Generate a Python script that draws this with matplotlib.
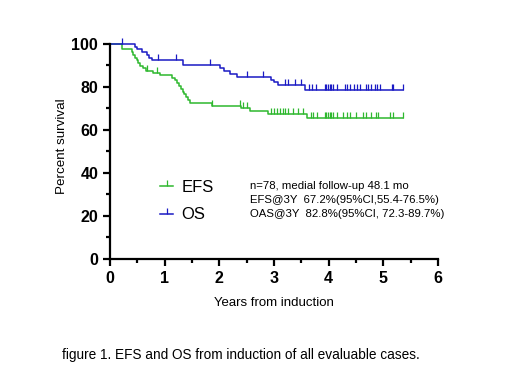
import numpy as np
import matplotlib
matplotlib.use('Agg')
import matplotlib.pyplot as plt
from matplotlib.lines import Line2D

plt.rcParams['font.family'] = ['Liberation Sans', 'DejaVu Sans']

# Kaplan-Meier steps (years, percent)
efs_t = [0, 0.22, 0.40, 0.43, 0.46, 0.49, 0.52, 0.55, 0.60, 0.66, 0.79, 0.91, 1.13,
         1.19, 1.23, 1.27, 1.30, 1.33, 1.36, 1.39, 1.42, 1.46, 1.86, 2.39, 2.56, 2.89, 3.60, 5.36]
efs_s = [100, 97.4, 96.2, 94.9, 93.6, 92.3, 91.0, 89.7, 88.5, 87.2, 86.5, 85.5, 84.3,
         83.0, 81.7, 80.4, 79.1, 77.8, 76.5, 75.2, 73.9, 72.6, 71.3, 70.0, 68.8, 67.3, 65.5, 65.5]
efs_cens = [0.67, 0.86, 1.86, 2.38, 2.44, 2.50, 2.94, 3.00, 3.06, 3.11, 3.16, 3.20, 3.26,
            3.35, 3.44, 3.53, 3.67, 3.72, 3.78, 3.93, 3.96, 3.99, 4.02, 4.05, 4.08, 4.16,
            4.27, 4.33, 4.39, 4.50, 4.63, 4.69, 4.78, 4.87, 4.90, 5.12, 5.18, 5.36]

os_t = [0, 0.46, 0.50, 0.58, 0.67, 0.72, 0.76, 1.34, 2.01, 2.08, 2.19, 2.32, 2.94,
        3.00, 3.08, 3.56, 5.36]
os_s = [100, 98.7, 97.4, 96.2, 94.9, 93.6, 92.3, 90.0, 88.5, 87.2, 85.9, 84.4, 83.1,
        82.0, 80.8, 78.5, 78.5]
os_cens = [0.22, 0.88, 1.20, 1.83, 2.50, 2.79, 3.20, 3.25, 3.38, 3.50, 3.64, 3.70, 3.76,
           3.93, 3.96, 3.99, 4.02, 4.05, 4.08, 4.16, 4.30, 4.33, 4.39, 4.46, 4.51, 4.57,
           4.68, 4.72, 4.78, 4.85, 4.88, 4.94, 5.15, 5.18, 5.36]

green = '#2EB82E'
blue = '#1A1AC4'

fig = plt.figure(figsize=(5.2, 3.87), dpi=100)
ax = fig.add_axes([0.2115, 0.3307, 0.6308, 0.5563])


def km(t, s, cens, color):
    ax.plot(t, s, drawstyle='steps-post', color=color, lw=1.1, clip_on=False)
    idx = np.searchsorted(t, cens, side='right') - 1
    ax.plot(cens, np.array(s)[idx], ls='none', marker=2, ms=4.5, mew=0.9,
            color=color, clip_on=False)


km(efs_t, efs_s, efs_cens, green)
km(os_t, os_s, os_cens, blue)

ax.set_xlim(0, 6)
ax.set_ylim(0, 100)
ax.set_xticks(range(0, 7))
ax.set_xticks(np.arange(0.5, 6, 1), minor=True)
ax.set_yticks(range(0, 101, 20))
ax.set_yticks(range(10, 100, 20), minor=True)
for s in ['top', 'right']:
    ax.spines[s].set_visible(False)
for s in ['left', 'bottom']:
    ax.spines[s].set_linewidth(1.6)
ax.tick_params(which='major', length=5, width=1.6, labelsize=11.5, direction='out')
ax.tick_params(which='minor', length=3, width=1.6, direction='out')
for lab in ax.get_xticklabels() + ax.get_yticklabels():
    lab.set_fontweight('bold')

ax.set_ylabel('Percent survival', fontsize=9.6)
ax.yaxis.set_label_coords(-0.128, 0.526)
ax.set_xlabel('Years from induction', fontsize=9.5, labelpad=8)

handles = [Line2D([], [], color=green, lw=1.1, marker=2, ms=4.5, mew=0.9),
           Line2D([], [], color=blue, lw=1.1, marker=2, ms=4.5, mew=0.9)]
ax.legend(handles, ['EFS', 'OS'], loc='upper left', bbox_to_anchor=(0.152, 0.367),
          frameon=False, fontsize=12, handlelength=0.8, handletextpad=0.5,
          labelspacing=0.74, borderpad=0, borderaxespad=0)

notes = ['n=78, medial follow-up 48.1 mo',
         'EFS@3Y  67.2%(95%CI,55.4-76.5%)',
         'OAS@3Y  82.8%(95%CI, 72.3-89.7%)']
for i, line in enumerate(notes):
    fig.text(250 / 520, 1 - (186 + 14 * i) / 387, line, fontsize=8.2, va='center')

fig.text(62 / 520, 1 - 355 / 387,
         'figure 1. EFS and OS from induction of all evaluable cases.',
         fontsize=9.8, va='center')

fig.savefig('out.png', dpi=100)
